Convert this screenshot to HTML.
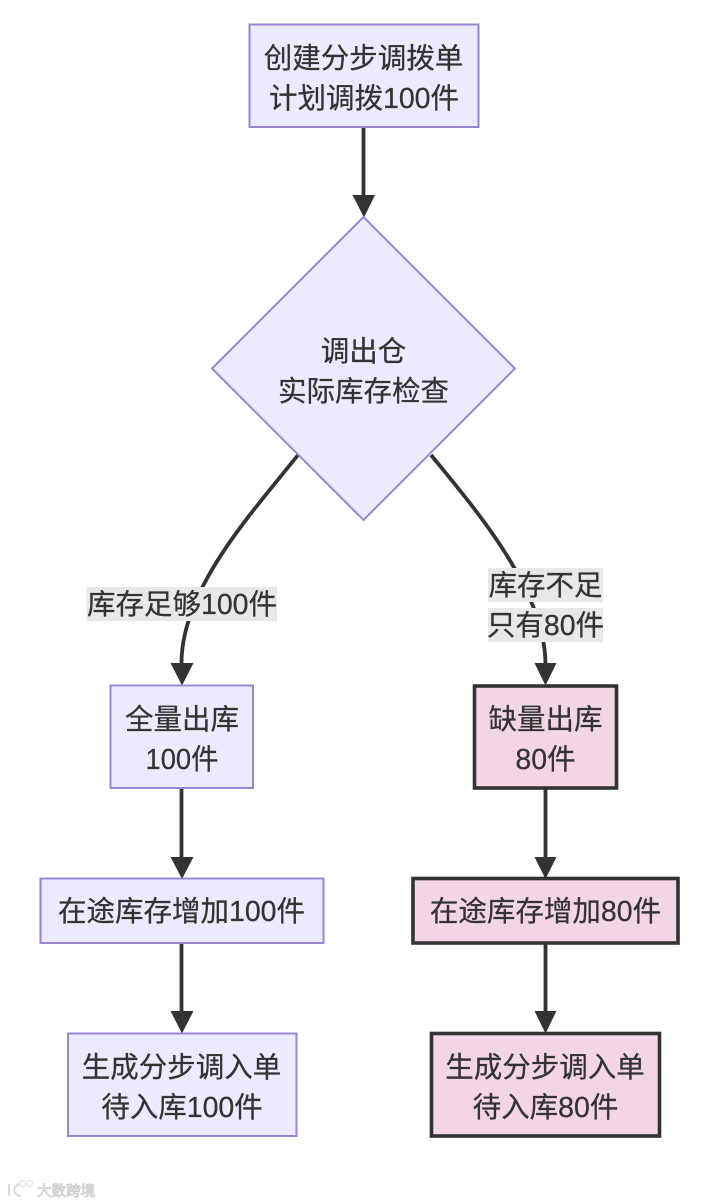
<!DOCTYPE html>
<html><head><meta charset="utf-8"><style>
html,body{margin:0;padding:0;background:#fff;width:716px;height:1204px;overflow:hidden}
svg{display:block}
text{font-family:"Liberation Sans","Noto Sans CJK SC",sans-serif;font-size:28.5px;fill:#333;stroke:#333;stroke-width:.25px;text-anchor:middle}
.n{fill:#ecebfd;stroke:#9a84d6;stroke-width:2}
.r{fill:#f3d6e6;stroke:#333;stroke-width:3.6}
.e{fill:none;stroke:#333;stroke-width:3.8}
.a{fill:#333}
.l{fill:#e8e8e8}
</style></head><body>
<svg width="716" height="1204" viewBox="0 0 716 1204" xmlns="http://www.w3.org/2000/svg">
<path class="e" d="M363.500 127V196"/><path class="a" d="M352.500 195H375L364 217.500Z"/>
<path class="e" d="M298 455C250 515 181 590 181.500 664"/><path class="a" d="M170.500 663H193.500L182 685.500Z"/>
<path class="e" d="M431 455C476 510 545 590 545.500 664"/><path class="a" d="M534.500 663H556.500L545.500 685.500Z"/>
<path class="e" d="M181.500 788V857"/><path class="a" d="M170.500 857H193.500L182 879Z"/>
<path class="e" d="M181.500 943V1012"/><path class="a" d="M170.500 1011H193.500L182 1033.500Z"/>
<path class="e" d="M545.500 788V857"/><path class="a" d="M534.500 857H556.500L545.500 879Z"/>
<path class="e" d="M545.500 943V1012"/><path class="a" d="M534.500 1011H556.500L545.500 1033.500Z"/>

<rect class="n" x="249.500" y="24.500" width="229" height="102.500"/>
<path class="n" d="M363.500 217L515 368.500L363.500 520L212 368.500Z"/>
<rect class="n" x="110.500" y="685.500" width="142.500" height="102.500"/>
<rect class="n" x="40.500" y="878.500" width="283" height="64.500"/>
<rect class="n" x="68" y="1033.500" width="228.500" height="102.500"/>
<rect class="r" x="474.500" y="686" width="142" height="102"/>
<rect class="r" x="413" y="878.500" width="265" height="64.500"/>
<rect class="r" x="431.500" y="1033.500" width="228" height="102.500"/>

<rect class="l" x="86.500" y="587" width="190.500" height="34"/>
<rect class="l" x="488" y="568" width="115" height="34"/>
<rect class="l" x="488" y="608" width="115" height="34"/>

<text x="363.500" y="68">创建分步调拨单</text>
<text x="364" y="108">计划调拨100件</text>
<text x="363.500" y="361">调出仓</text>
<text x="363.500" y="401">实际库存检查</text>
<text x="182" y="614">库存足够100件</text>
<text x="545.500" y="595">库存不足</text>
<text x="545.500" y="635">只有80件</text>
<text x="182" y="729">全量出库</text>
<text x="182" y="769" textLength="73" lengthAdjust="spacingAndGlyphs">100件</text>
<text x="545.500" y="729">缺量出库</text>
<text x="545.500" y="769">80件</text>
<text x="181.500" y="921">在途库存增加100件</text>
<text x="545.500" y="921">在途库存增加80件</text>
<text x="181.500" y="1077">生成分步调入单</text>
<text x="182" y="1117">待入库100件</text>
<text x="545" y="1077">生成分步调入单</text>
<text x="545.500" y="1117">待入库80件</text>

<g opacity="0.6">
<path d="M9 1184V1196M20 1184C12 1186 12 1195 21 1196" fill="none" stroke="#c4c4c4" stroke-width="2"/>
<circle cx="22.500" cy="1183.500" r="3" fill="none" stroke="#ccc"/><circle cx="29.500" cy="1183.500" r="3" fill="none" stroke="#ccc"/>
<text x="66" y="1196" style="font-size:14.500px;fill:#fff;stroke:#aaa;stroke-width:.8px">大数跨境</text>
</g>
</svg>
</body></html>
